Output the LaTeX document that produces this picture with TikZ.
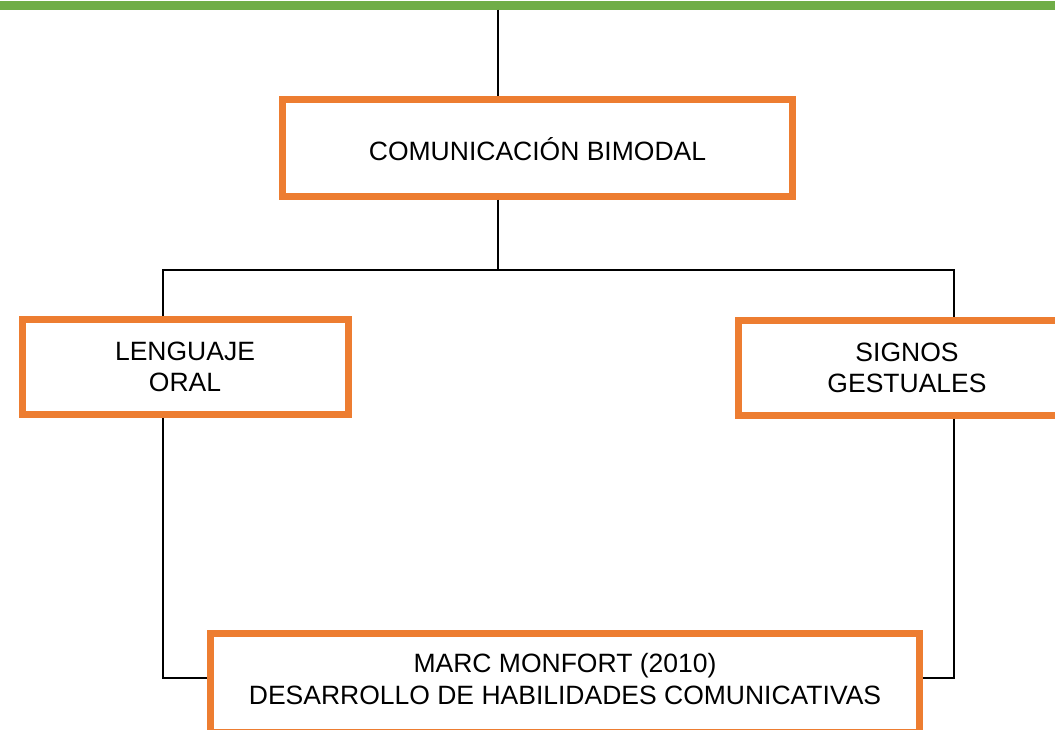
\documentclass[tikz,border=0pt]{standalone}
\usepackage{fontspec}
\setmainfont{Liberation Sans}
\definecolor{barGreen}{HTML}{70AD47}
\definecolor{boxOrange}{HTML}{ED7D31}
\begin{document}
\begin{tikzpicture}[x=1pt,y=-1pt,
  obox/.style={draw=boxOrange,line width=7pt,fill=white,inner sep=0pt,align=center,
    font=\fontsize{26.5}{31}\selectfont},
  link/.style={draw=black,line width=2.5pt}]
\useasboundingbox (0,0) rectangle (1055,729);
\fill[barGreen] (0,0.5) rectangle (1055,9.5);
\coordinate (top) at (498,9.5);
\node[obox,minimum width=510pt,minimum height=97pt] (cb) at (537.5,147.5) {\raisebox{-13pt}[0pt][0pt]{COMUNICACIÓN BIMODAL}};
\node[obox,minimum width=326pt,minimum height=95pt] (lo) at (185,367) {LENGUAJE\\ORAL};
\node[obox,minimum width=338pt,minimum height=95pt] (sg) at (907,367.5) {SIGNOS\\GESTUALES};
\node[obox,minimum width=708.5pt,minimum height=99pt] (mm) at (565,683) {};
\node[inner sep=0pt,align=center,font=\fontsize{26.5}{32}\selectfont] (mmt) at (565,679.5) {MARC MONFORT (2010)\\DESARROLLO DE HABILIDADES COMUNICATIVAS};
\coordinate (hl) at (163,270);
\coordinate (hr) at (954,270);
\coordinate (bl) at (163,678);
\coordinate (br) at (954,678);
\draw[link] (top) -- (cb.north -| top);
\draw[link] (cb.south -| top) -- (top |- hl);
\draw[link] (lo.north -| hl) -- (hl) -- (hr) -- (sg.north -| hr);
\draw[link] (lo.south -| bl) -- (bl) -- (mm.west |- bl);
\draw[link] (sg.south -| br) -- (br) -- (mm.east |- br);
\end{tikzpicture}
\end{document}
